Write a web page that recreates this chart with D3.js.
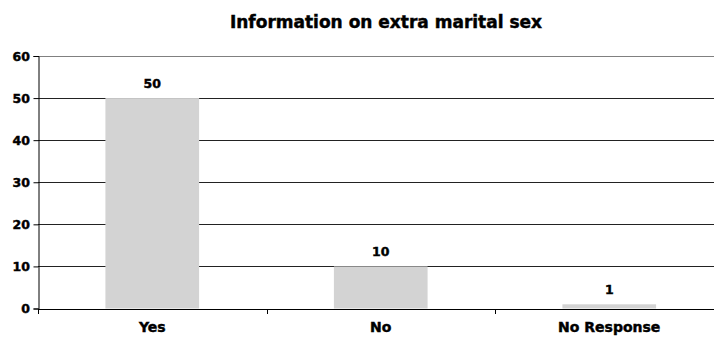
<!DOCTYPE html>
<html>
<head>
<meta charset="utf-8">
<script src="https://cdn.jsdelivr.net/npm/d3@7"></script>
<style>
  html, body { margin: 0; padding: 0; background: #fff; }
  svg { display: block; font-family: "DejaVu Sans", "Liberation Sans", Arial, sans-serif; }
  svg text { stroke: #000; stroke-width: 0.45px; paint-order: stroke; }
</style>
</head>
<body>
<svg id="chart" width="714" height="338"></svg>
<script>
const categories = ["Yes", "No", "No Response"];
const responses = [50, 10, 1];
const yTicks = [0, 10, 20, 30, 40, 50, 60];
const titleText = "Information on extra marital sex";

const FONT = "DejaVu Sans, Liberation Sans, Arial, sans-serif";
const svg = d3.select("#chart");
const margin = { left: 38, top: 56, bottom: 308.5 };
const plotRight = 723.5;

const x = d3.scaleBand().domain(categories).range([margin.left, plotRight]).paddingInner(0.59).paddingOuter(0.295);
const xOuter = d3.scaleBand().domain(categories).range([margin.left, plotRight]);
const y = d3.scaleLinear().domain([0, 60]).range([margin.bottom, margin.top]);

// Title
svg.append("text")
  .attr("x", 386).attr("y", 28)
  .attr("text-anchor", "middle")
  .attr("font-size", 17).attr("font-weight", "bold")
  .attr("fill", "#000")
  .text(titleText);

// Horizontal gridlines
svg.append("g").selectAll("line").data(yTicks.filter(d => d > 0)).join("line")
  .attr("x1", margin.left).attr("x2", plotRight)
  .attr("y1", d => Math.round(y(d)) + 0.5).attr("y2", d => Math.round(y(d)) + 0.5)
  .attr("stroke", d => d === 60 ? "#808080" : "#222")
  .attr("stroke-width", 1);

// Bars
svg.append("g").selectAll("rect").data(categories).join("rect")
  .attr("x", d => x(d))
  .attr("width", x.bandwidth())
  .attr("y", (d, i) => y(responses[i]))
  .attr("height", (d, i) => y(0) - y(responses[i]))
  .attr("fill", "#d3d3d3");

// Value labels
svg.append("g").selectAll("text").data(categories).join("text")
  .attr("x", d => x(d) + x.bandwidth() / 2)
  .attr("y", (d, i) => y(responses[i]) - 10)
  .attr("text-anchor", "middle")
  .attr("font-size", 12.5).attr("font-weight", "bold")
  .text((d, i) => responses[i]);

// Y axis
const yAxis = d3.axisLeft(y).tickValues(yTicks).tickSize(5).tickPadding(3.5);
const gy = svg.append("g").attr("transform", `translate(${margin.left + 0.5},0)`).call(yAxis);
gy.select(".domain").attr("stroke", "#000");
gy.selectAll(".tick line").attr("stroke", "#000");
gy.selectAll(".tick text")
  .attr("font-size", 12.5).attr("font-weight", "bold")
  .attr("font-family", FONT)
  .attr("fill", "#000");

// X axis baseline with category boundary ticks
const gx = svg.append("g");
gx.append("line")
  .attr("x1", margin.left).attr("x2", plotRight)
  .attr("y1", Math.round(y(0)) + 0.5).attr("y2", Math.round(y(0)) + 0.5)
  .attr("stroke", "#000");
gx.selectAll(".bound").data(categories).join("line")
  .attr("class", "bound")
  .attr("x1", d => Math.round(xOuter(d)) + 0.5).attr("x2", d => Math.round(xOuter(d)) + 0.5)
  .attr("y1", Math.round(y(0))).attr("y2", Math.round(y(0)) + 5)
  .attr("stroke", "#000");
gx.selectAll(".cat").data(categories).join("text")
  .attr("class", "cat")
  .attr("x", d => x(d) + x.bandwidth() / 2)
  .attr("y", 332)
  .attr("text-anchor", "middle")
  .attr("font-size", 14).attr("font-weight", "bold")
  .text(d => d);
</script>
</body>
</html>
